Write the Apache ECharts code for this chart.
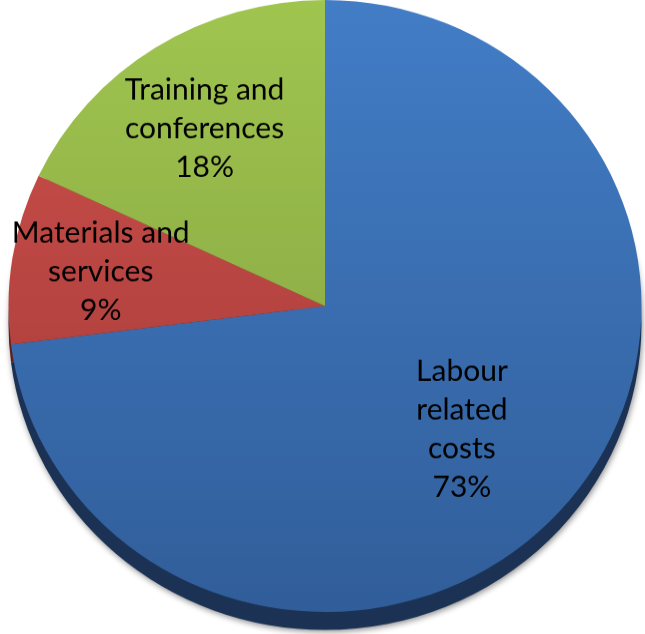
<!DOCTYPE html>
<html>
<head>
<meta charset="utf-8">
<script src="https://cdn.jsdelivr.net/npm/echarts@6/dist/echarts.min.js"></script>
<style>
  html, body { margin: 0; padding: 0; background: #fff; overflow: hidden; }
  #wrap { width: 645px; height: 634px; overflow: hidden; }
  /* the chart is drawn as a circle and flattened slightly to the tilted-disc look */
  #chart { width: 645px; height: 656px; transform: scaleY(0.9668); transform-origin: 0 0; }
</style>
</head>
<body>
<div id="wrap"><div id="chart"></div></div>
<script>
// Cost breakdown, percent of total
const categories = ['Labour\nrelated\ncosts', 'Materials and\nservices', 'Training and\nconferences'];
const shares = [73, 9, 18];

// face colours (light -> dark, top to bottom) and darker side colours
const faceTop = ['#427dc6', '#cf504c', '#a0c54f'];
const faceBottom = ['#315e9a', '#9f3936', '#809d40'];
const sideColors = ['#1b3254', '#5e1f1d', '#4b5d25'];
const labelOffsets = [[16, 21], [-65, -10], [-34, -47]];

const chart = echarts.init(document.getElementById('chart'), null, { renderer: 'canvas' });

const R = 316.5;
const cx = 325, cy = 316.5, depth = 18.6;

function grad(i) {
  return {
    type: 'linear', global: true,
    x: 0, y: cy - R, x2: 0, y2: cy + R,
    colorStops: [{ offset: 0, color: faceTop[i] }, { offset: 1, color: faceBottom[i] }]
  };
}

chart.setOption({
  animation: false,
  series: [
    {
      // side of the disc
      type: 'pie',
      silent: true,
      z: 1,
      center: [cx, cy + depth],
      radius: [0, R],
      startAngle: 90,
      clockwise: true,
      label: { show: false },
      labelLine: { show: false },
      itemStyle: {
        shadowBlur: 6, shadowColor: 'rgba(0,0,0,0.45)', shadowOffsetY: 2, shadowOffsetX: 1
      },
      data: shares.map((v, i) => ({ value: v, name: categories[i], itemStyle: { color: sideColors[i] } }))
    },
    {
      // top face
      type: 'pie',
      z: 2,
      center: [cx, cy],
      radius: [0, R],
      startAngle: 90,
      clockwise: true,
      labelLine: { show: false },
      label: {
        show: true,
        position: 'inside',
        color: '#000',
        fontFamily: 'Lato',
        fontSize: 30,
        lineHeight: 40,
        align: 'center',
        formatter: p => p.name + '\n' + p.value + '%'
      },
      data: shares.map((v, i) => ({
        value: v,
        name: categories[i],
        itemStyle: { color: grad(i) },
        label: { offset: labelOffsets[i] }
      }))
    }
  ]
});
</script>
</body>
</html>
